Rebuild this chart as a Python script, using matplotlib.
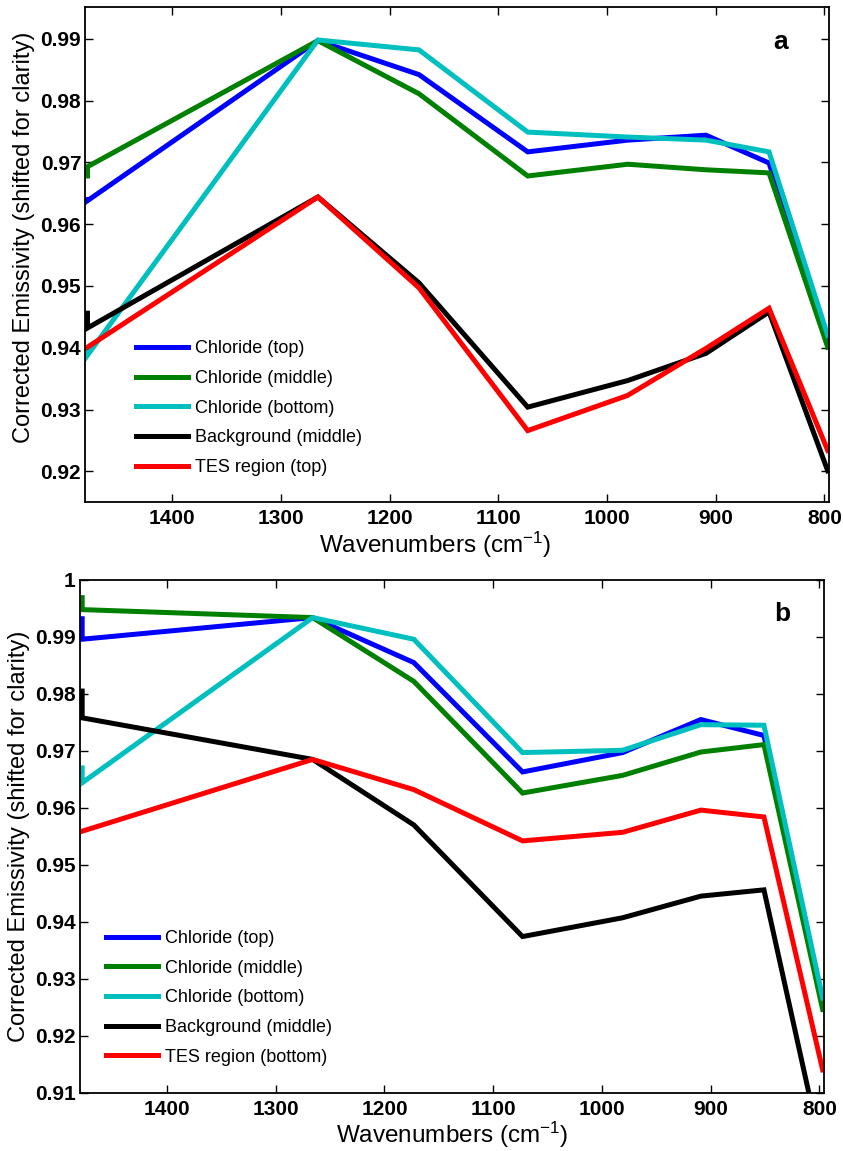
import numpy as np
import matplotlib
matplotlib.use("Agg")
from matplotlib import pyplot as plt

plt.rcParams['font.family'] = ['Liberation Sans', 'DejaVu Sans']
plt.rcParams['mathtext.default'] = 'regular'

# band centres (cm^-1); first two bands share a wavenumber
wavenumbers = [1478, 1478, 1266, 1173, 1073, 981, 909, 851, 797]

labels_a = ['Chloride (top)', 'Chloride (middle)', 'Chloride (bottom)',
            'Background (middle)', 'TES region (top)']
labels_b = ['Chloride (top)', 'Chloride (middle)', 'Chloride (bottom)',
            'Background (middle)', 'TES region (bottom)']
colors = ['#0000ff', '#008000', '#00bfbf', '#000000', '#ff0000']

# panel a
chl_top_a = [0.9640, 0.9638, 0.9897, 0.9842, 0.9717, 0.9736, 0.9744, 0.9699, 0.9410]
chl_mid_a = [0.9678, 0.9693, 0.9897, 0.9811, 0.9678, 0.9697, 0.9688, 0.9683, 0.9401]
chl_bot_a = [0.9396, 0.9388, 0.9898, 0.9882, 0.9749, 0.9741, 0.9736, 0.9717, 0.9420]
bkg_mid_a = [0.9456, 0.9432, 0.9644, 0.9505, 0.9304, 0.9347, 0.9391, 0.9458, 0.9201]
tes_top_a = [0.9401, 0.9401, 0.9644, 0.9497, 0.9266, 0.9323, 0.9399, 0.9464, 0.9234]

# panel b
chl_top_b = [0.9932, 0.9896, 0.9934, 0.9855, 0.9663, 0.9697, 0.9755, 0.9727, 0.9255]
chl_mid_b = [0.9969, 0.9948, 0.9934, 0.9822, 0.9626, 0.9657, 0.9698, 0.9711, 0.9246]
chl_bot_b = [0.9670, 0.9644, 0.9934, 0.9896, 0.9697, 0.9701, 0.9746, 0.9745, 0.9266]
bkg_mid_b = [0.9805, 0.9758, 0.9685, 0.9570, 0.9374, 0.9407, 0.9445, 0.9456, 0.8990]
tes_bot_b = [0.9559, 0.9559, 0.9685, 0.9632, 0.9542, 0.9557, 0.9596, 0.9584, 0.9140]

xticks = [1400, 1300, 1200, 1100, 1000, 900, 800]
yticks_a = [0.92, 0.93, 0.94, 0.95, 0.96, 0.97, 0.98, 0.99]
yticks_b = [0.91, 0.92, 0.93, 0.94, 0.95, 0.96, 0.97, 0.98, 0.99, 1.0]


def style_axes(ax, yticks, ylim):
    ax.set_xlim(1480, 795.5)
    ax.set_ylim(*ylim)
    ax.set_xticks(xticks)
    ax.set_yticks(yticks)
    ax.set_xticklabels([str(t) for t in xticks], fontweight='bold', fontsize=15)
    ax.set_yticklabels(['%g' % t for t in yticks], fontweight='bold', fontsize=15)
    ax.tick_params(direction='in', length=6, width=1, top=True, right=True, pad=3)
    ax.tick_params(axis='x', pad=5)
    for s in ax.spines.values():
        s.set_linewidth(1.3)
    ax.set_xlabel('Wavenumbers (cm$^{-1}$)', fontsize=17.5, labelpad=1)
    ax.set_ylabel('Corrected Emissivity (shifted for clarity)', fontsize=17, labelpad=4)


fig = plt.figure(figsize=(8.43, 11.51), dpi=100)
ax_a = fig.add_axes([0.1012, 0.5636, 0.8826, 0.4301])
ax_b = fig.add_axes([0.0949, 0.0507, 0.8829, 0.4454])

for ys, c, lab in zip([chl_top_a, chl_mid_a, chl_bot_a, bkg_mid_a, tes_top_a], colors, labels_a):
    ax_a.plot(wavenumbers, ys, color=c, lw=3.6, label=lab, solid_joinstyle='miter')
for ys, c, lab in zip([chl_top_b, chl_mid_b, chl_bot_b, bkg_mid_b, tes_bot_b], colors, labels_b):
    ax_b.plot(wavenumbers, ys, color=c, lw=3.6, label=lab, solid_joinstyle='miter')

style_axes(ax_a, yticks_a, (0.915, 0.9951))
style_axes(ax_b, yticks_b, (0.91, 1.0))

# panel a labels sit a little off-centre in the original
ax_a.xaxis.label.set_x(0.47)
ax_a.yaxis.label.set_y(0.536)

for ax, pos in [(ax_a, (0.068, 0.327)), (ax_b, (0.035, 0.317))]:
    ax.legend(loc='upper left', bbox_to_anchor=pos, frameon=False, fontsize=13,
              handlelength=2.9, handletextpad=0.35, labelspacing=0.7,
              borderpad=0, borderaxespad=0)

ax_a.text(0.924, 0.916, 'a', transform=ax_a.transAxes, fontsize=19,
          fontweight='bold', va='baseline')
ax_b.text(0.933, 0.92, 'b', transform=ax_b.transAxes, fontsize=19,
          fontweight='bold', va='baseline')

fig.savefig('out.png', dpi=100)
